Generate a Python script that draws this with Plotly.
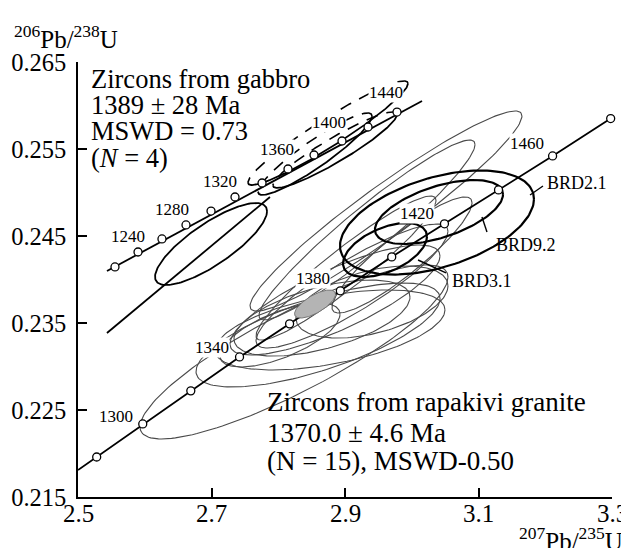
import numpy as np
import plotly.graph_objects as go

# ---------------- data ----------------
# lower concordia (rapakivi granite plot): start at axis, then age nodes
conc_lo_x = [2.500, 2.528, 2.597, 2.669, 2.742, 2.817, 2.893, 2.970, 3.049, 3.130, 3.211, 3.298]
conc_lo_y = [0.2181, 0.2196, 0.2234, 0.2272, 0.2311, 0.2349, 0.2387, 0.2426, 0.2464, 0.2503, 0.2542, 0.2585]
conc_lo_ages = [None, 1280, 1300, 1320, 1340, 1360, 1380, 1400, 1420, 1440, 1460, 1480]

# upper concordia (gabbro plot), ages 1200..1420
conc_up_x = [2.5554, 2.5899, 2.6258, 2.6618, 2.6993, 2.7352, 2.7757, 2.8146, 2.8536, 2.8955, 2.9345, 2.9779]
conc_up_y = [0.24144, 0.24316, 0.24466, 0.24627, 0.24787, 0.24948, 0.25109, 0.25270, 0.25431, 0.25592, 0.25753, 0.25925]
conc_up_line_x = [2.5434, 3.0154]
conc_up_line_y = [0.24098, 0.26052]

# discordia through the gabbro data
disc_x = [2.5434, 2.7876]
disc_y = [0.23385, 0.24948]

# age labels
lab_lo_text = ["1300", "1340", "1380", "1420", "1460"]
lab_lo_x = [2.5569, 2.7007, 2.8521, 3.0079, 3.1727]
lab_lo_y = [0.22420, 0.23213, 0.24006, 0.24764, 0.25569]
lab_up_text = ["1240", "1280", "1320", "1360", "1400", "1440"]
lab_up_x = [2.5749, 2.6408, 2.7127, 2.7981, 2.8760, 2.9614]
lab_up_y = [0.24500, 0.24810, 0.25121, 0.25500, 0.25799, 0.26144]

# rapakivi granite zircons, thin ellipses: 207/235, 206/238, half-widths, rho
thin_cx = [2.8236, 2.8596, 2.8775, 2.9614, 2.9330, 2.8850, 2.8655, 2.9105, 2.9015, 2.9404, 2.8026, 2.9854]
thin_cy = [0.23167, 0.23362, 0.23420, 0.24787, 0.24569, 0.23764, 0.23557, 0.23925, 0.24132, 0.23741, 0.23362, 0.24282]
thin_sx = [0.2307, 0.1828, 0.1723, 0.2037, 0.1618, 0.1573, 0.1318, 0.1438, 0.1348, 0.1139, 0.0899, 0.1049]
thin_sy = [0.01000, 0.00598, 0.00460, 0.01150, 0.01034, 0.00632, 0.00437, 0.00713, 0.00828, 0.00414, 0.00368, 0.00667]
thin_rho = [0.86, 0.70, 0.50, 0.95, 0.95, 0.80, 0.55, 0.88, 0.94, 0.45, 0.65, 0.90]

# labelled grains (bold)
brd_name = ["BRD2.1", "BRD9.2", "BRD3.1"]
brd_cx = [3.0378, 3.0408, 2.9599]
brd_cy = [0.24655, 0.24776, 0.24339]
brd_sx = [0.1453, 0.0959, 0.0629]
brd_sy = [0.00598, 0.00368, 0.00310]
brd_rho = [0.45, 0.55, 0.50]
brd_lab_x = [3.1996, 3.1232, 3.0573]
brd_lab_y = [0.25109, 0.24397, 0.23983]
brd_lead_x = [[3.1966, 3.1772], [3.1127, 3.1052], [3.0513, 3.0094]]
brd_lead_y = [[0.25075, 0.24971], [0.24546, 0.24718], [0.24075, 0.24224]]

# concordia age (filled)
mean_cx, mean_cy, mean_sx, mean_sy, mean_rho = 2.8551, 0.23718, 0.0307, 0.00161, 0.70

# gabbro zircons
gab_cx = [2.6993, 2.8745, 2.8850, 2.8551]
gab_cy = [0.24408, 0.25684, 0.25489, 0.25443]
gab_sx = [0.0839, 0.1199, 0.0929, 0.0854]
gab_sy = [0.00471, 0.00598, 0.00437, 0.00471]
gab_rho = [0.80, 0.95, 0.93, 0.92]
gab_dashed_top = [False, True, True, True]

x_ticks = [2.5, 2.7, 2.9, 3.1, 3.3]
x_tick_labels = ["2.5", "2.7", "2.9", "3.1", "3.3"]
y_ticks = [0.215, 0.225, 0.235, 0.245, 0.255, 0.265]
y_tick_labels = ["0.215", "0.225", "0.235", "0.245", "0.255", "0.265"]

FONT = "Liberation Serif"


def ellipse(cx, cy, sx, sy, rho, t0=0.0, t1=2 * np.pi, n=160):
    t = np.linspace(t0, t1, n)
    s = np.sqrt(1 - rho ** 2)
    return cx + sx * np.cos(t), cy + sy * (rho * np.cos(t) + s * np.sin(t))


fig = go.Figure()

# thin ellipses
for i in range(len(thin_cx)):
    ex, ey = ellipse(thin_cx[i], thin_cy[i], thin_sx[i], thin_sy[i], thin_rho[i])
    fig.add_trace(go.Scatter(x=ex, y=ey, mode="lines", line=dict(color="#4a4a4a", width=1.1),
                             hoverinfo="skip", showlegend=False))

# gabbro ellipses
for i in range(len(gab_cx)):
    if gab_dashed_top[i]:
        ex, ey = ellipse(gab_cx[i], gab_cy[i], gab_sx[i], gab_sy[i], gab_rho[i], np.pi, 2 * np.pi)
        fig.add_trace(go.Scatter(x=ex, y=ey, mode="lines", line=dict(color="black", width=1.8),
                                 hoverinfo="skip", showlegend=False))
        ex, ey = ellipse(gab_cx[i], gab_cy[i], gab_sx[i], gab_sy[i], gab_rho[i], 0, np.pi)
        fig.add_trace(go.Scatter(x=ex, y=ey, mode="lines",
                                 line=dict(color="black", width=1.6, dash="12px,9px"),
                                 hoverinfo="skip", showlegend=False))
    else:
        ex, ey = ellipse(gab_cx[i], gab_cy[i], gab_sx[i], gab_sy[i], gab_rho[i])
        fig.add_trace(go.Scatter(x=ex, y=ey, mode="lines", line=dict(color="black", width=1.8),
                                 hoverinfo="skip", showlegend=False))

# bold ellipses
for i in range(len(brd_cx)):
    ex, ey = ellipse(brd_cx[i], brd_cy[i], brd_sx[i], brd_sy[i], brd_rho[i])
    fig.add_trace(go.Scatter(x=ex, y=ey, mode="lines", line=dict(color="black", width=2.2),
                             hoverinfo="skip", showlegend=False))
    fig.add_trace(go.Scatter(x=brd_lead_x[i], y=brd_lead_y[i], mode="lines",
                             line=dict(color="black", width=1.4), hoverinfo="skip", showlegend=False))

# discordia
fig.add_trace(go.Scatter(x=disc_x, y=disc_y, mode="lines", line=dict(color="black", width=1.8),
                         hoverinfo="skip", showlegend=False))

# concordia lines
fig.add_trace(go.Scatter(x=conc_lo_x, y=conc_lo_y, mode="lines", line=dict(color="black", width=1.8),
                         hoverinfo="skip", showlegend=False))
fig.add_trace(go.Scatter(x=conc_up_line_x, y=conc_up_line_y, mode="lines",
                         line=dict(color="black", width=1.8), hoverinfo="skip", showlegend=False))

# mean ellipse (filled)
ex, ey = ellipse(mean_cx, mean_cy, mean_sx, mean_sy, mean_rho)
fig.add_trace(go.Scatter(x=ex, y=ey, mode="lines", fill="toself", fillcolor="#b4b4b4",
                         line=dict(color="#777777", width=1), hoverinfo="skip", showlegend=False))

# concordia nodes
fig.add_trace(go.Scatter(x=conc_lo_x[1:], y=conc_lo_y[1:], mode="markers",
                         marker=dict(symbol="circle", size=8, color="white",
                                     line=dict(color="black", width=1.3)),
                         hoverinfo="skip", showlegend=False, cliponaxis=False))
fig.add_trace(go.Scatter(x=conc_up_x, y=conc_up_y, mode="markers",
                         marker=dict(symbol="circle", size=8, color="white",
                                     line=dict(color="black", width=1.3)),
                         hoverinfo="skip", showlegend=False))

ann = []
for t, x, y in zip(lab_lo_text + lab_up_text, lab_lo_x + lab_up_x, lab_lo_y + lab_up_y):
    ann.append(dict(x=x, y=y, xref="x", yref="y", text=t, showarrow=False,
                    font=dict(family=FONT, size=17, color="black"),
                    bgcolor="white", borderpad=0))
for t, x, y in zip(brd_name, brd_lab_x, brd_lab_y):
    ann.append(dict(x=x, y=y, xref="x", yref="y", text=t, showarrow=False, xanchor="left",
                    font=dict(family=FONT, size=18, color="black")))

gab_lines = ["Zircons from gabbro", "1389 ± 28 Ma", "MSWD = 0.73", "(<i>N</i> = 4)"]
gab_line_y = [0.9609, 0.9011, 0.8414, 0.7793]
for t, y in zip(gab_lines, gab_line_y):
    ann.append(dict(x=0.0206, y=y, xref="paper", yref="paper", text=t, showarrow=False,
                    xanchor="left", yanchor="middle", font=dict(family=FONT, size=26.5, color="black")))
rap_lines = ["Zircons from rapakivi granite", "1370.0 ± 4.6 Ma", "(N = 15), MSWD-0.50"]
rap_line_y = [0.2184, 0.1471, 0.0828]
for t, y in zip(rap_lines, rap_line_y):
    ann.append(dict(x=0.3502, y=y, xref="paper", yref="paper", text=t, showarrow=False,
                    xanchor="left", yanchor="middle", font=dict(family=FONT, size=27, color="black")))

# x tick labels (placed close under the axis as in the reference)
for v, t in zip(x_ticks, x_tick_labels):
    ann.append(dict(x=v, y=-0.037, xref="x", yref="paper", text=t, showarrow=False,
                    xanchor="center", yanchor="middle", font=dict(family=FONT, size=25, color="black")))

# axis titles
ann.append(dict(x=-0.124, y=1.057, xref="paper", yref="paper", xanchor="left", yanchor="middle",
                text="<sup>206</sup>Pb/<sup>238</sup>U", showarrow=False,
                font=dict(family=FONT, size=25, color="black")))
ann.append(dict(x=1.0243, y=-0.055, xref="paper", yref="paper", xanchor="right", yanchor="top",
                text="<sup>207</sup>Pb/<sup>235</sup>U", showarrow=False,
                font=dict(family=FONT, size=25, color="black")))

# the page body adds an 8 px offset; size the figure so the plot area lands where the reference has it
fig.update_layout(
    width=621, height=540,
    margin=dict(l=70, r=17, t=54, b=51, autoexpand=False),
    paper_bgcolor="white", plot_bgcolor="white",
    annotations=ann,
    showlegend=False,
)
fig.update_xaxes(range=[2.5, 3.3], tickvals=x_ticks, showticklabels=False,
                 ticks="inside", ticklen=9, tickwidth=1.5, tickcolor="black", automargin=False,
                 showline=True, linecolor="black", linewidth=1.5, showgrid=False, zeroline=False)
fig.update_yaxes(range=[0.215, 0.265], tickvals=y_ticks, ticktext=y_tick_labels,
                 ticks="inside", ticklen=9, tickwidth=1.5, tickcolor="black", automargin=False,
                 showline=True, linecolor="black", linewidth=1.5, showgrid=False, zeroline=False,
                 ticklabelstandoff=5,
                 tickfont=dict(family=FONT, size=24.5, color="black"))

fig.write_html("out.html")
